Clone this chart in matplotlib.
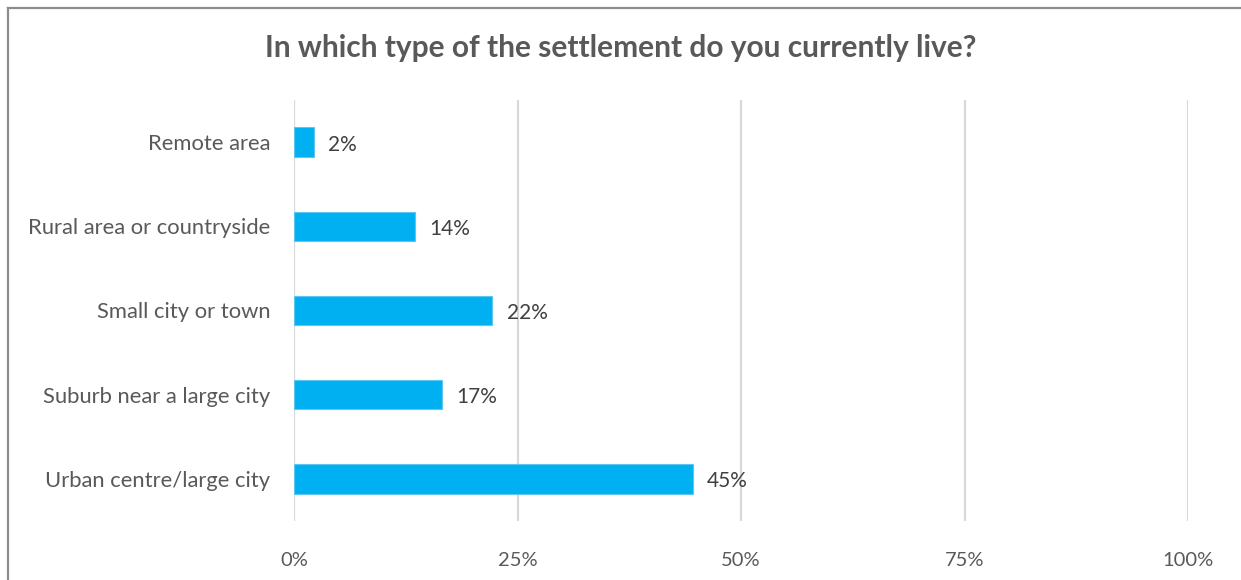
import matplotlib.pyplot as plt
from matplotlib.lines import Line2D
from matplotlib.ticker import FuncFormatter

categories = ['Remote area', 'Rural area or countryside', 'Small city or town',
              'Suburb near a large city', 'Urban centre/large city']
shares = [2.2, 13.5, 22.2, 16.6, 44.6]
xticks = [0, 25, 50, 75, 100]

plt.rcParams['font.family'] = ['Lato', 'DejaVu Sans']

fig = plt.figure(figsize=(12.41, 5.80), dpi=100)
fig.patch.set_facecolor('white')
ax = fig.add_axes([294 / 1241, 1 - 521 / 580, 894 / 1241, 421 / 580])

# first category at the top
ypos = list(range(len(categories)))[::-1]
bars = ax.barh(ypos, shares, height=0.35, color='#00b0f0', edgecolor='#5cc8f2',
               linewidth=0.8, zorder=3)

for y, v in zip(ypos, shares):
    ax.text(v + 1.6, y - 0.03, f'{v:.0f}%', va='center', ha='left', fontsize=15,
            color='#404040', zorder=4)

ax.set_xlim(0, 100)
ax.set_ylim(-0.5, len(categories) - 0.5)
ax.set_xticks(xticks)
ax.xaxis.set_major_formatter(FuncFormatter(lambda v, _: f'{v:.0f}%'))
ax.set_yticks(ypos)
ax.set_yticklabels(categories)
ax.tick_params(axis='x', length=0, labelsize=14.5, labelcolor='#595959', pad=22)
ax.tick_params(axis='y', length=0, labelsize=15.8, labelcolor='#595959', pad=17)
ax.grid(axis='x', color='#d9d9d9', linewidth=1.6, zorder=0)
for s in ax.spines.values():
    s.set_visible(False)

fig.text(0.5, 1 - 48 / 580, 'In which type of the settlement do you currently live?',
         ha='center', va='center', fontsize=21.5, fontweight='bold', color='#595959')

# chart frame: left and top edges only
fig.add_artist(Line2D([8 / 1241, 8 / 1241], [0, 1 - 8 / 580], transform=fig.transFigure,
                      color='#8c8c8c', linewidth=1.6))
fig.add_artist(Line2D([8 / 1241, 1], [1 - 8 / 580, 1 - 8 / 580], transform=fig.transFigure,
                      color='#8c8c8c', linewidth=1.6))

fig.savefig('out.png', dpi=100)
